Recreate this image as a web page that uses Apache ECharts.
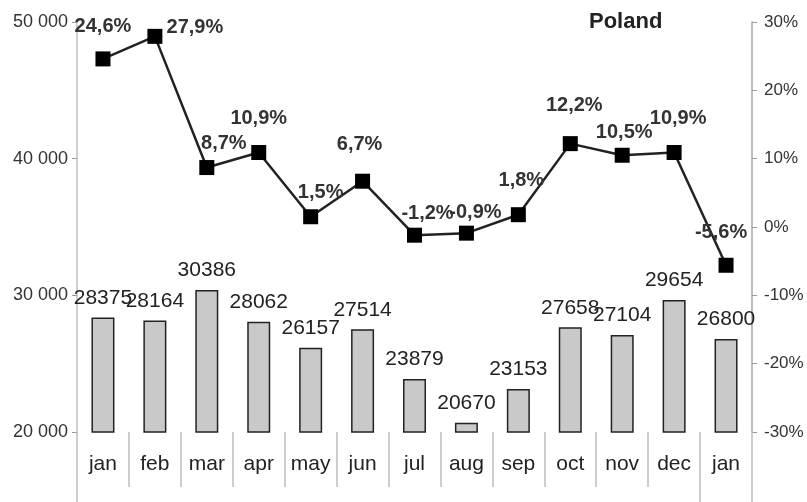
<!DOCTYPE html>
<html>
<head>
<meta charset="utf-8">
<script src="https://cdn.jsdelivr.net/npm/echarts@6/dist/echarts.min.js"></script>
<style>
html,body{margin:0;padding:0;background:#fff;}
#chart{width:807px;height:502px;}
</style>
</head>
<body>
<div id="chart"></div>
<script>
const categories = ['jan','feb','mar','apr','may','jun','jul','aug','sep','oct','nov','dec','jan'];
const volumes = [28375, 28164, 30386, 28062, 26157, 27514, 23879, 20670, 23153, 27658, 27104, 29654, 26800];
const changes = [24.6, 27.9, 8.7, 10.9, 1.5, 6.7, -1.2, -0.9, 1.8, 12.2, 10.5, 10.9, -5.6];
const labelOffsets = [[0,-6],[40,18],[17,2],[0,-8],[10,2],[-3,-10],[13,5],[9,6],[3,-8],[4,-12],[2,4],[4,-8],[-5,-6]];

const FONT = '"Liberation Sans", Arial, sans-serif';
const chart = echarts.init(document.getElementById('chart'), null, {renderer: 'canvas'});

const fmtThousands = v => String(v).replace(/\B(?=(\d{3})+(?!\d))/g, ' ');
const fmtPct = v => v.toFixed(1).replace('.', ',') + '%';

chart.setOption({
  animation: false,
  backgroundColor: '#fff',
  title: {
    text: 'Poland',
    left: 584, top: 6,
    textStyle: {fontFamily: FONT, fontSize: 22, fontWeight: 'bold', color: '#222'}
  },
  grid: {left: 77, right: 55, top: 22, bottom: 70, containLabel: false},
  xAxis: [{
    type: 'category',
    data: categories,
    position: 'bottom',
    axisLine: {show: false, onZero: false},
    axisTick: {show: true, interval: 0, length: 55, lineStyle: {color: '#bdbdbd', width: 1.5}},
    axisLabel: {interval: 0, margin: 22, fontFamily: FONT, fontSize: 21, color: '#222'},
    splitLine: {show: false}
  }, {
    type: 'category',
    data: categories,
    position: 'bottom',
    axisLine: {show: false, onZero: false},
    axisTick: {show: true, interval: (i) => i === 0 || i === 12 || i === 13, length: 70, lineStyle: {color: '#bdbdbd', width: 1.5}},
    axisLabel: {show: false},
    splitLine: {show: false}
  }],
  yAxis: [{
    type: 'value',
    min: 20000, max: 50000, interval: 10000,
    position: 'left',
    axisLine: {show: true, lineStyle: {color: '#cfcfcf', width: 2}},
    axisTick: {show: true, length: 5, lineStyle: {color: '#999'}},
    splitLine: {show: false},
    axisLabel: {formatter: fmtThousands, margin: 9, fontFamily: FONT, fontSize: 18, color: '#333'}
  }, {
    type: 'value',
    min: -30, max: 30, interval: 10,
    position: 'right',
    axisLine: {show: true, lineStyle: {color: '#a8a8a8', width: 1.5}},
    axisTick: {show: true, length: 5, lineStyle: {color: '#999'}},
    splitLine: {show: false},
    axisLabel: {formatter: v => v + '%', margin: 12, fontFamily: FONT, fontSize: 17, color: '#333'}
  }],
  series: [{
    type: 'bar',
    xAxisIndex: 0, yAxisIndex: 0,
    data: volumes,
    barWidth: 23,
    itemStyle: {color: '#c9c9c9', borderColor: '#222', borderWidth: 1.5},
    label: {show: true, position: 'top', distance: 9, fontFamily: FONT, fontSize: 21, color: '#222'}
  }, {
    type: 'line',
    xAxisIndex: 0, yAxisIndex: 1,
    data: changes.map((v, i) => ({value: v, label: {offset: labelOffsets[i]}})),
    symbol: 'rect',
    symbolSize: 15,
    lineStyle: {color: '#222', width: 2.5},
    itemStyle: {color: '#000'},
    z: 5,
    label: {
      show: true, position: 'top', distance: 9,
      formatter: p => fmtPct(p.value),
      fontFamily: FONT, fontSize: 20, fontWeight: 'bold', color: '#333'
    }
  }]
});
</script>
</body>
</html>
